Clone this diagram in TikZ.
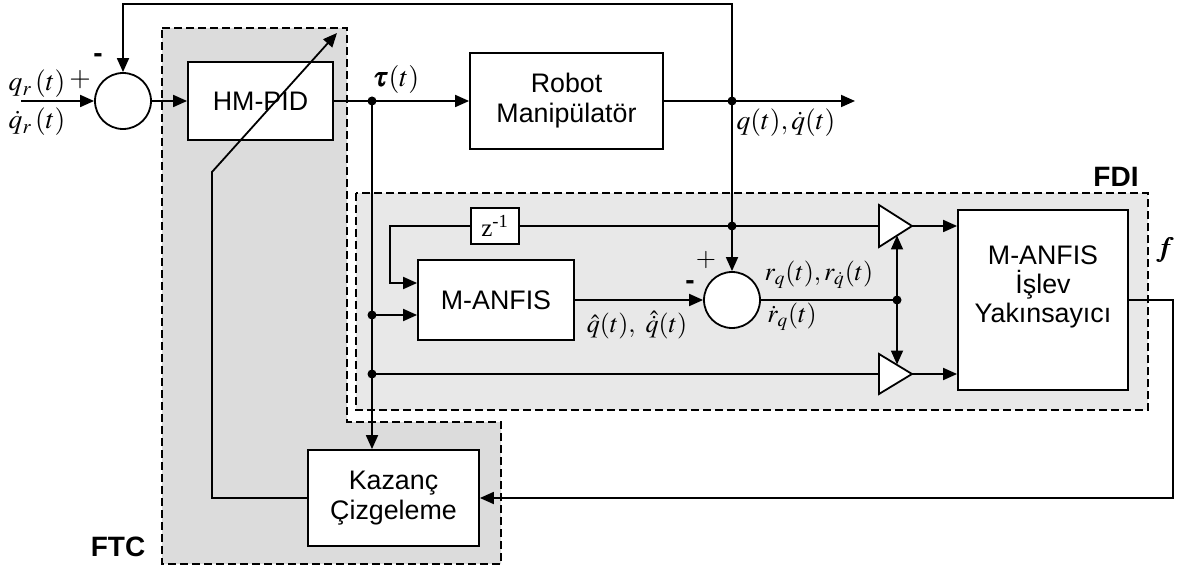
\documentclass[tikz,border=0pt]{standalone}
\usepackage{amsmath}
\usepackage{mathptmx}
\usepackage{bm}
\usepackage[no-math]{fontspec}
\setmainfont{Liberation Sans}
\newfontfamily\serif{Liberation Serif}
\usetikzlibrary{arrows.meta}
\definecolor{ftcgray}{gray}{0.863}
\definecolor{fdigray}{gray}{0.91}
\begin{document}
\begin{tikzpicture}[x=0.5pt,y=-0.5pt, line width=0.9pt,
  blk/.style={draw, fill=white, line width=0.9pt, inner sep=0pt, align=center, font=\fontsize{13.4}{15}\selectfont},
  sumc/.style={draw, fill=white, circle, minimum size=28pt, inner sep=0pt},
  arr/.style={-{Triangle[length=7pt,width=6pt]}},
  jdot/.style={circle, fill=black, inner sep=0pt, minimum size=4.5pt},
  region/.style={draw, dash pattern=on 4pt off 2pt, line width=0.9pt},
  lbl/.style={inner sep=0pt, font=\fontsize{13}{15}\selectfont},
  lblq/.style={inner sep=0pt, font=\fontsize{13.8}{15}\selectfont},
  reglbl/.style={inner sep=0pt, font=\fontsize{14}{16}\selectfont\bfseries}]
\useasboundingbox (0,0) rectangle (1192,571);
% regions
\draw[region, fill=ftcgray] (162,28) -- (347,28) -- (347,422) -- (501,422) -- (501,564) -- (162,564) -- cycle;
\draw[region, fill=fdigray] (356,193) rectangle (1148,410);
% blocks
\node[blk, minimum width=72.5pt, minimum height=39pt] (pid) at (260.5,101) {HM-PID};
\node[blk, minimum width=96.5pt, minimum height=48pt] (robot) at (566.5,101) {Robot\\Manipülatör};
\node[blk, minimum width=78pt, minimum height=40pt] (anfis) at (496,300) {M-ANFIS};
\node[blk, minimum width=24pt, minimum height=18pt, font=\serif\fontsize{12.5}{14}\selectfont] (z) at (495,226) {z\textsuperscript{-1}};
\node[blk, minimum width=85pt, minimum height=90pt] (fa) at (1043,300) {};
\node[inner sep=0pt, align=center, font=\fontsize{13.4}{14.3}\selectfont] (fatext) at (1043,287) {M-ANFIS\\İşlev\\Yakınsayıcı};
\node[blk, minimum width=85.5pt, minimum height=48pt] (kaz) at (393.5,498) {Kazanç\\Çizgeleme};
\node[sumc] (s1) at (123,101) {};
\node[sumc] (s2) at (732,300) {};
% triangles
\coordinate (t1in) at (879,226); \coordinate (t1out) at (912,226);
\coordinate (t2in) at (879,374); \coordinate (t2out) at (912,374);
\draw[fill=white] (879,205) -- (t1out) -- (879,247) -- cycle;
\draw[fill=white] (879,354) -- (t2out) -- (879,394) -- cycle;
% junctions
\node[jdot] (jt) at (372,101) {};
\node[jdot] (jq) at (732,101) {};
\node[jdot] (jz) at (732,226) {};
\node[jdot] (jm) at (372,315) {};
\node[jdot] (jl) at (372,374) {};
\node[jdot] (jr) at (897,300) {};
% free coordinates
\coordinate (in) at (21,101);
\coordinate (out) at (855,101);
\coordinate (top) at (732,4);
\coordinate (zl) at (390,226);
\coordinate (zb) at (390,283);
\coordinate (ua) at (897,235.5);
\coordinate (la) at (897,364.5);
\coordinate (fr) at (1173,300);
\coordinate (fb) at (1173,498);
\coordinate (gl) at (212,498);
\coordinate (gk) at (212,172);
\coordinate (gt) at (337,33);
% connectors
\draw[arr] (in) -- (s1);
\draw[arr] (s1) -- (pid);
\draw (pid) -- (jt.center);
\draw[arr] (jt.center) -- (robot);
\draw[arr] (robot) -- (out);
\draw[arr] (jq.center) -- (top) -| (s1.north);
\draw (jq.center) -- (jz.center);
\draw[arr] (jz.center) -- (s2.north);
\draw (z.east) -- (t1in);
\draw[arr] (z.west) -- (zl) -- (zb) -- (anfis.west |- zb);
\draw (jt.center) -- (jl.center);
\draw[arr] (jl.center) -- (kaz.north -| jl);
\draw[arr] (jm.center) -- (anfis.west |- jm);
\draw (jl.center) -- (t2in);
\draw[arr] (anfis) -- (s2);
\draw (s2) -- (jr.center);
\draw[arr] (jr.center) -- (ua);
\draw[arr] (jr.center) -- (la);
\draw[arr] (t1out) -- (fa.west |- t1out);
\draw[arr] (t2out) -- (fa.west |- t2out);
\draw[arr] (fa.east) -- (fr) -- (fb) -- (kaz.east);
\draw[arr] (kaz.west) -- (gl) -- (gk) -- (gt);
% labels
\node[lblq] (lqr) at (37,84) {$q_{r}\,(t)$};
\node[lblq] (lp1) at (80,80) {$+$};
\node[lblq] (lqrd) at (37,122) {$\dot q_{r}\,(t)$};
\node[inner sep=0pt, font=\fontsize{14}{14}\selectfont\bfseries] (lm1) at (98,58) {-};
\node[inner sep=0pt, font=\fontsize{14}{16}\selectfont] (ltau) at (396,80) {$\bm{\tau}(t)$};
\node[lblq] (lq) at (786,123) {$q(t),\dot q(t)$};
\node[lbl] (lqh) at (637,325) {$\hat q(t),\ \hat{\dot q}(t)$};
\node[lbl] (lp2) at (706,260) {$+$};
\node[inner sep=0pt, font=\fontsize{14}{14}\selectfont\bfseries] (lm2) at (690,285) {-};
\node[lbl] (lr) at (819,275) {$r_q(t), r_{\dot q}(t)$};
\node[lbl] (lrd) at (792,317) {$\dot r_q(t)$};
\node[inner sep=0pt, font=\fontsize{14}{16}\selectfont] (lf) at (1165,250) {$\bm{f}$};
\node[reglbl] (lfdi) at (1116,177) {FDI};
\node[reglbl] (lftc) at (118,547) {FTC};
\end{tikzpicture}
\end{document}
